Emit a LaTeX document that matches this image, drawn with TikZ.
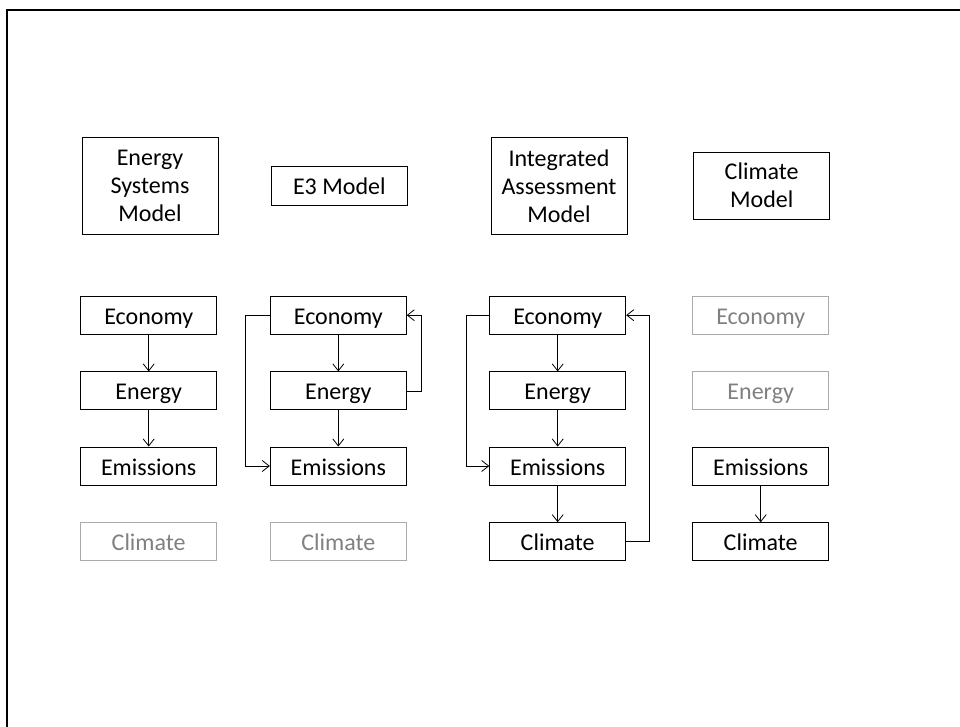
\documentclass[tikz,border=0pt]{standalone}
\usepackage{fontspec}
\setmainfont{Carlito}
\usetikzlibrary{arrows.meta}
\definecolor{fadeline}{RGB}{170,170,170}
\definecolor{fadetext}{RGB}{128,128,128}
\begin{document}
\begin{tikzpicture}[x=1pt,y=-1pt,
  frame/.style={draw=black, line width=0.9pt, minimum width=136pt,
    minimum height=38pt, inner sep=0pt, font=\fontsize{24}{28}\selectfont},
  box/.style={frame, text height=18pt, text depth=0pt},
  faded/.style={box, draw=fadeline, text=fadetext},
  head/.style={frame, align=center},
  link/.style={draw=black, line width=0.8pt,
    -{Straight Barb[length=7pt,width=11pt]}}]
\useasboundingbox (0,0) rectangle (960,727);
% page frame
\draw[line width=2pt] (6.7,740) -- (6.7,10.3) -- (970,10.3);

% model headings
\node[head, minimum height=97pt]   (h1) at (150,185.8) {Energy\\Systems\\Model};
\node[head, minimum height=38.7pt, text height=18pt, text depth=0pt] (h2) at (339.3,186) {E3 Model};
\node[head, minimum height=97pt]   (h3) at (559,185.8) {Integrated\\Assessment\\Model};
\node[head, minimum height=67pt]   (h4) at (761.7,185.7) {Climate\\Model};

% energy systems model
\node[box]    (a1) at (148.7,315.2) {Economy};
\node[box]    (a2) at (148.7,390.9) {Energy};
\node[box]    (a3) at (148.7,466)   {Emissions};
\node[faded]  (a4) at (148.7,541.7) {Climate};

% E3 model
\node[box]    (b1) at (338.3,315.2) {Economy};
\node[box]    (b2) at (338.3,390.9) {Energy};
\node[box]    (b3) at (338.3,466)   {Emissions};
\node[faded]  (b4) at (338.3,541.7) {Climate};

% integrated assessment model
\node[box]    (c1) at (557.7,315.2) {Economy};
\node[box]    (c2) at (557.7,390.9) {Energy};
\node[box]    (c3) at (557.7,466)   {Emissions};
\node[box]    (c4) at (557.7,541.7) {Climate};

% climate model
\node[faded]  (d1) at (760.7,315.2) {Economy};
\node[faded]  (d2) at (760.7,390.9) {Energy};
\node[box]    (d3) at (760.7,466)   {Emissions};
\node[box]    (d4) at (760.7,541.7) {Climate};

% chains
\draw[link] (a1) -- (a2);
\draw[link] (a2) -- (a3);

\draw[link] (b1) -- (b2);
\draw[link] (b2) -- (b3);
\draw[link] (b1.west) -- ++(-24,0) |- (b3.west);
\draw[link] (b2.east) -- ++(15,0) |- (b1.east);

\draw[link] (c1) -- (c2);
\draw[link] (c2) -- (c3);
\draw[link] (c3) -- (c4);
\draw[link] (c1.west) -- ++(-23,0) |- (c3.west);
\draw[link] (c4.east) -- ++(23,0) |- (c1.east);

\draw[link] (d3) -- (d4);
\end{tikzpicture}
\end{document}
